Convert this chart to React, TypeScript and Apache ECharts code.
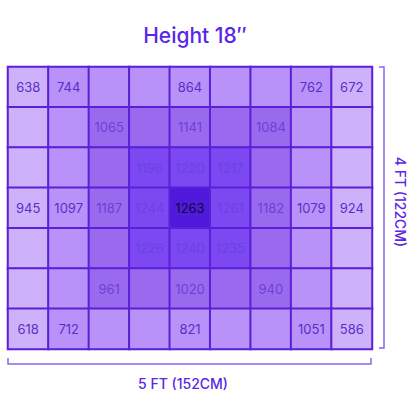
import React, { useEffect, useRef } from "react";
import * as echarts from "echarts";

const columns = ["c1", "c2", "c3", "c4", "c5", "c6", "c7", "c8", "c9"];
const rows = ["r1", "r2", "r3", "r4", "r5", "r6", "r7"];

// PPFD readings (null = not printed)
const readings: (number | null)[][] = [
  [638, 744, null, null, 864, null, null, 762, 672],
  [null, null, 1065, null, 1141, null, 1084, null, null],
  [null, null, null, 1196, 1220, 1217, null, null, null],
  [945, 1097, 1187, 1244, 1263, 1261, 1182, 1079, 924],
  [null, null, null, 1226, 1240, 1235, null, null, null],
  [null, null, 961, null, 1020, null, 940, null, null],
  [618, 712, null, null, 821, null, null, 1051, 586],
];

// intensity band of each cell (0 = outer, 4 = centre)
const bands: number[][] = [
  [0, 1, 1, 1, 1, 1, 1, 1, 0],
  [0, 1, 2, 2, 2, 2, 2, 1, 0],
  [0, 1, 2, 3, 3, 3, 2, 1, 0],
  [0, 1, 2, 3, 4, 3, 2, 1, 0],
  [0, 1, 2, 3, 3, 3, 2, 1, 0],
  [0, 1, 2, 2, 2, 2, 2, 1, 0],
  [0, 1, 1, 1, 1, 1, 1, 1, 0],
];

const bandColors = ["#cdb1fb", "#b892f8", "#9a6aee", "#7b48f1", "#4f1adb"];
const bandText = ["#5a2fc6", "#5a2fc6", "#6a42d6", "#6a44e2", "#140838"];

export default function App() {
  const ref = useRef<HTMLDivElement>(null);
  useEffect(() => {
    if (!ref.current) return;
    const chart = echarts.init(ref.current, undefined, { renderer: "svg" });
    const data: any[] = [];
    rows.forEach((_, r) => {
      columns.forEach((_, c) => {
        const b = bands[r][c];
        const v = readings[r][c];
        data.push({
          value: [c, r, b, v],
          label: { color: bandText[b] },
        });
      });
    });
    chart.setOption({
      animation: false,
      backgroundColor: "#ffffff",
      title: {
        text: "Height 18\u2033",
        left: 190,
        textAlign: "center",
        top: 20,
        textStyle: {
          fontFamily: "Inter",
          fontSize: 21,
          fontWeight: 500,
          color: "#5a26e6",
        },
      },
      grid: { left: 8, top: 67, width: 364, height: 282 },
      xAxis: {
        type: "category",
        data: columns,
        show: false,
      },
      yAxis: {
        type: "category",
        data: rows,
        inverse: true,
        show: false,
      },
      visualMap: {
        show: false,
        type: "piecewise",
        dimension: 2,
        pieces: bandColors.map((color, i) => ({ value: i, color })),
      },
      series: [
        {
          type: "heatmap",
          data,
          itemStyle: { borderColor: "#5a1fd6", borderWidth: 2 },
          label: {
            show: true,
            fontFamily: "Inter",
            fontSize: 13,
            formatter: (p: any) => (p.value[3] == null ? "" : String(p.value[3])),
          },
          emphasis: { disabled: true },
        },
      ],
      graphic: [
        {
          type: "polyline",
          shape: { points: [[8, 358], [8, 364], [371, 364], [371, 358]] },
          style: { stroke: "#8a66ee", lineWidth: 1.5, fill: null },
        },
        {
          type: "text",
          x: 183,
          y: 383,
          style: {
            text: "5 FT (152CM)",
            fontFamily: "Inter",
            fontSize: 14,
            fontWeight: 500,
            fill: "#5a26e6",
            align: "center",
            verticalAlign: "middle",
          },
        },
        {
          type: "polyline",
          shape: { points: [[379, 67], [384, 67], [384, 348], [379, 348]] },
          style: { stroke: "#8a66ee", lineWidth: 1.5, fill: null },
        },
        {
          type: "text",
          x: 400,
          y: 202,
          rotation: -Math.PI / 2,
          style: {
            text: "4 FT (122CM)",
            fontFamily: "Inter",
            fontSize: 14,
            fontWeight: 500,
            fill: "#5a26e6",
            align: "center",
            verticalAlign: "middle",
          },
        },
      ],
    });
    return () => chart.dispose();
  }, []);
  return (
    <div
      ref={ref}
      style={{ position: "absolute", left: 0, top: 0, width: 416, height: 416 }}
    />
  );
}
